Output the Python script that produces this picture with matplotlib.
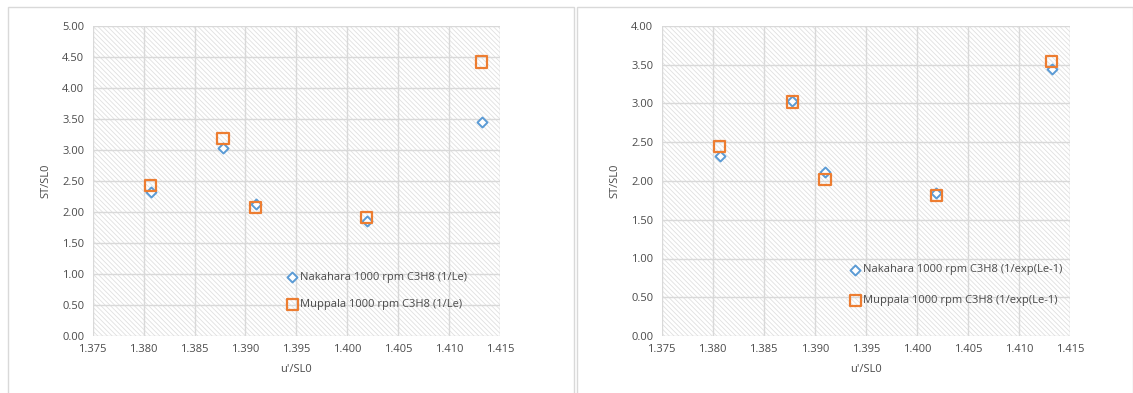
import matplotlib.pyplot as plt
from matplotlib.patches import Rectangle
import numpy as np

# ------------------- DATA ----------------
u_sl0 = [1.3807, 1.3878, 1.3910, 1.4019, 1.4132]
# left panel (1/Le)
nak_le = [2.33, 3.03, 2.13, 1.85, 3.45]
mup_le = [2.43, 3.19, 2.07, 1.91, 4.42]
# right panel (1/exp(Le-1))
nak_exp = [2.32, 3.03, 2.12, 1.85, 3.45]
mup_exp = [2.44, 3.02, 2.02, 1.81, 3.54]

labels_left = ['Nakahara 1000 rpm C3H8 (1/Le)', 'Muppala 1000 rpm C3H8 (1/Le)']
labels_right = ['Nakahara 1000 rpm C3H8 (1/exp(Le-1)', 'Muppala 1000 rpm C3H8 (1/exp(Le-1)']

BLUE, ORANGE = '#5B9BD5', '#ED7D31'
TXT = '#4A4A4A'
GRID = '#D9D9D9'
HATCH = '#E0E0E0'

plt.rcParams['font.family'] = ['Open Sans', 'DejaVu Sans']
plt.rcParams['hatch.linewidth'] = 0.6
plt.rcParams['hatch.color'] = HATCH

fig = plt.figure(figsize=(11.33, 3.93), dpi=100)
W, H = 1133, 393

# outer chart borders
for x0, x1 in [(8, 574), (577, 1133)]:
    fig.add_artist(Rectangle((x0 / W, -0.01), (x1 - x0) / W, 1 - 7 / H + 0.01,
                             transform=fig.transFigure, fill=False,
                             edgecolor='#D9D9D9', linewidth=1))


def setup(ax, nak, mup, labels, ymax, leg_xy, lspace):
    ax.add_patch(Rectangle((0, 0), 1, 1, transform=ax.transAxes, facecolor='white',
                           hatch='\\' * 7, edgecolor=HATCH, linewidth=0, zorder=0.1))
    ax.set_xlim(1.375, 1.415)
    ax.set_ylim(0, ymax)
    ax.set_xticks(np.arange(1.375, 1.4151, 0.005))
    ax.set_yticks(np.arange(0, ymax + 0.001, 0.5))
    ax.xaxis.set_major_formatter(plt.FormatStrFormatter('%.3f'))
    ax.yaxis.set_major_formatter(plt.FormatStrFormatter('%.2f'))
    ax.grid(True, color=GRID, linewidth=1, zorder=0.5)
    ax.set_axisbelow(False)
    for s in ax.spines.values():
        s.set_visible(False)
    ax.tick_params(length=0, labelsize=8, labelcolor=TXT, pad=6)
    ax.set_xlabel("u'/SL0", fontsize=8, color=TXT, labelpad=6)
    ax.set_ylabel('ST/SL0', fontsize=8, color=TXT, labelpad=8)
    ax.scatter(u_sl0, nak, marker='D', s=26, facecolor='white', edgecolor=BLUE,
               linewidth=1.4, zorder=3, label=labels[0])
    ax.scatter(u_sl0, mup, marker='s', s=64, facecolor='none', edgecolor=ORANGE,
               linewidth=1.6, zorder=4, label=labels[1])
    leg = ax.legend(loc='center left', bbox_to_anchor=leg_xy, frameon=False,
                    fontsize=8, handlelength=1, handletextpad=0.2,
                    labelspacing=lspace, borderpad=0, borderaxespad=0)
    for t in leg.get_texts():
        t.set_color(TXT)


ax1 = fig.add_axes([92.7 / W, 1 - 336 / H, 407.3 / W, 310 / H])
setup(ax1, nak_le, mup_le, labels_left, 5.0, (0.476, 0.145), 1.5)

ax2 = fig.add_axes([661.7 / W, 1 - 336 / H, 408.3 / W, 310 / H])
setup(ax2, nak_exp, mup_exp, labels_right, 4.0, (0.46, 0.163), 1.8)

fig.savefig('out.png', dpi=100)
